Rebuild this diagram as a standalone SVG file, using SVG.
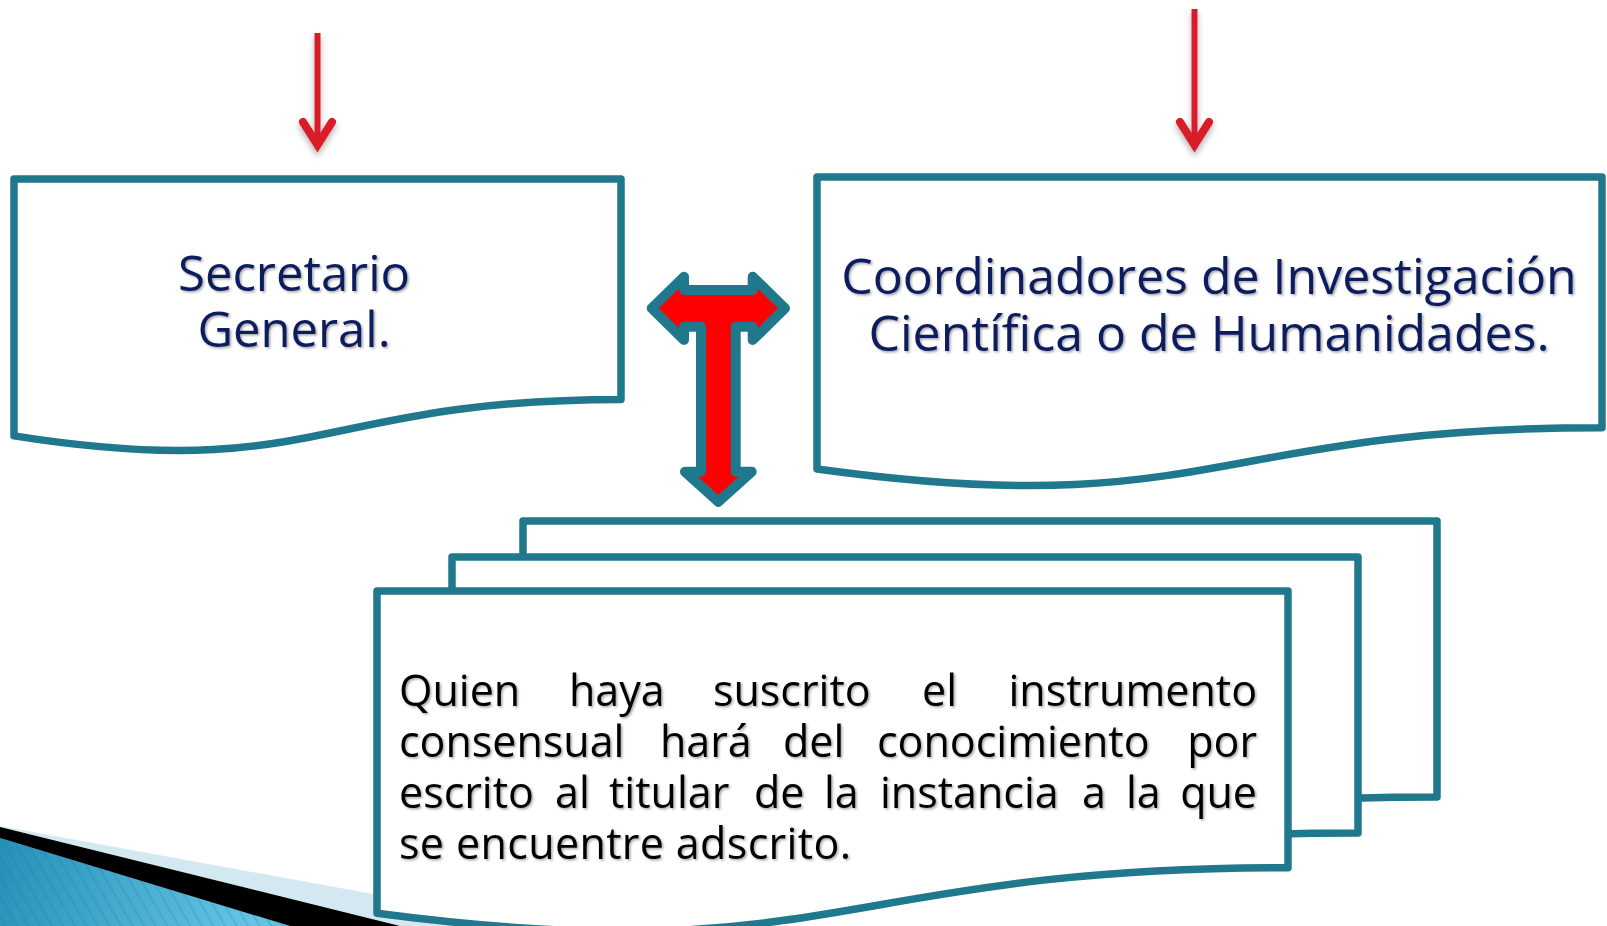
<svg xmlns="http://www.w3.org/2000/svg" width="1607" height="926" viewBox="0 0 1607 926">
  <defs>
    <style>
      .doc { fill: #ffffff; stroke: #1F788C; stroke-width: 7.5; stroke-linejoin: round; }
      .title { font-family: "Open Sans", "Liberation Sans", sans-serif; font-size: 49px; fill: #0F1F5E; text-anchor: middle; filter: url(#tshadow); }
      .big { font-size: 50px; }
      .body { font-family: "Open Sans", "Liberation Sans", sans-serif; font-size: 43px; fill: #000000; filter: url(#tshadow); }
      .end { text-anchor: end; }
      .redline { stroke: #D81F2A; stroke-width: 6; fill: none; }
      .redhead { stroke: #D81F2A; stroke-width: 8; fill: none; stroke-linecap: round; stroke-linejoin: miter; }
      .tarrow { fill: #FF0000; stroke: #1F788C; stroke-width: 10; stroke-linejoin: round; }
    </style>
    <filter id="tshadow" x="-5%" y="-20%" width="110%" height="150%">
      <feDropShadow dx="1.5" dy="1.5" stdDeviation="1" flood-color="#000" flood-opacity="0.35"/>
    </filter>
    <filter id="ashadow" x="-50%" y="-10%" width="200%" height="130%">
      <feDropShadow dx="0" dy="4" stdDeviation="3" flood-color="#000" flood-opacity="0.3"/>
    </filter>
    <linearGradient id="blueg" gradientUnits="userSpaceOnUse" x1="0" y1="840" x2="240" y2="926">
      <stop offset="0" stop-color="#2590B8"/>
      <stop offset="1" stop-color="#62C3E4"/>
    </linearGradient>
    <pattern id="stripes" patternUnits="userSpaceOnUse" width="10" height="10" patternTransform="rotate(-30)">
      <line x1="2" y1="-1" x2="2" y2="11" stroke="#17769E" stroke-opacity="0.3" stroke-width="1.3"/>
    </pattern>
  </defs>

  <!-- background decoration -->
  <g id="decoration">
    <polygon points="0,826 548,926 0,926" fill="#D4E8F1"/>
    <polygon points="0,838 290,926 0,926" fill="url(#blueg)"/>
    <polygon points="0,838 290,926 0,926" fill="url(#stripes)"/>
    <polygon points="0,827 400,926 290,926 0,838" fill="#000000"/>
  </g>

  <!-- nodes -->
  <g id="node-secretario">
    <path class="doc" d="M14,179 H621 V399.5 C317.5,399.5 317.5,483.6 14,435.9 Z"/>
    <text class="title" x="294" y="291">Secretario</text>
    <text class="title" x="294" y="347">General.</text>
  </g>

  <g id="node-coordinadores">
    <path class="doc" d="M817,177 H1602 V427.7 C1209.5,427.7 1209.5,523.2 817,469 Z"/>
    <text class="title big" x="1209" y="294">Coordinadores de Investigación</text>
    <text class="title big" x="1209" y="351">Científica o de Humanidades.</text>
  </g>

  <g id="node-instancia">
    <path class="doc" d="M523,521 H1437 V796.9 C980,796.9 980,902 523,842.3 Z"/>
    <path class="doc" d="M452,557 H1358 V832.9 C905,832.9 905,938 452,878.3 Z"/>
    <path class="doc" d="M377,591 H1288 V867.7 C832.5,867.7 832.5,973.1 377,913.2 Z"/>
    <text class="body" y="706">
      <tspan x="399">Quien</tspan><tspan x="569">haya</tspan><tspan x="713">suscrito</tspan><tspan x="922">el</tspan>
    </text>
    <text class="body end" x="1257" y="706">instrumento</text>
    <text class="body" y="757">
      <tspan x="399">consensual</tspan><tspan x="660">hará</tspan><tspan x="783">del</tspan><tspan x="877">conocimiento</tspan>
    </text>
    <text class="body end" x="1257" y="757">por</text>
    <text class="body" y="808">
      <tspan x="399">escrito</tspan><tspan x="555">al</tspan><tspan x="609">titular</tspan><tspan x="754">de</tspan><tspan x="824">la</tspan><tspan x="880">instancia</tspan><tspan x="1082">a</tspan><tspan x="1126">la</tspan>
    </text>
    <text class="body end" x="1257" y="808">que</text>
    <text class="body" x="399" y="859" textLength="452" lengthAdjust="spacing">se encuentre adscrito.</text>
  </g>

  <!-- connectors -->
  <g id="connectors">
    <g filter="url(#ashadow)">
      <line class="redline" x1="317.5" y1="33" x2="317.5" y2="146"/>
      <path class="redhead" d="M303,122 L317.5,145 L332,122"/>
    </g>
    <g filter="url(#ashadow)">
      <line class="redline" x1="1194.5" y1="9" x2="1194.5" y2="146"/>
      <path class="redhead" d="M1180,122 L1194.5,145 L1209,122"/>
    </g>
    <path class="tarrow" d="M651.7,308.3 L684,276.7 L684,290 L752.7,290 L752.7,276.7 L785,308.3 L752.7,340 L752.7,326.7 L735.7,326.7 L735.7,471.7 L751.7,471.7 L718.3,501.7 L685,471.7 L701,471.7 L701,326.7 L684,326.7 L684,340 Z"/>
  </g>
</svg>
